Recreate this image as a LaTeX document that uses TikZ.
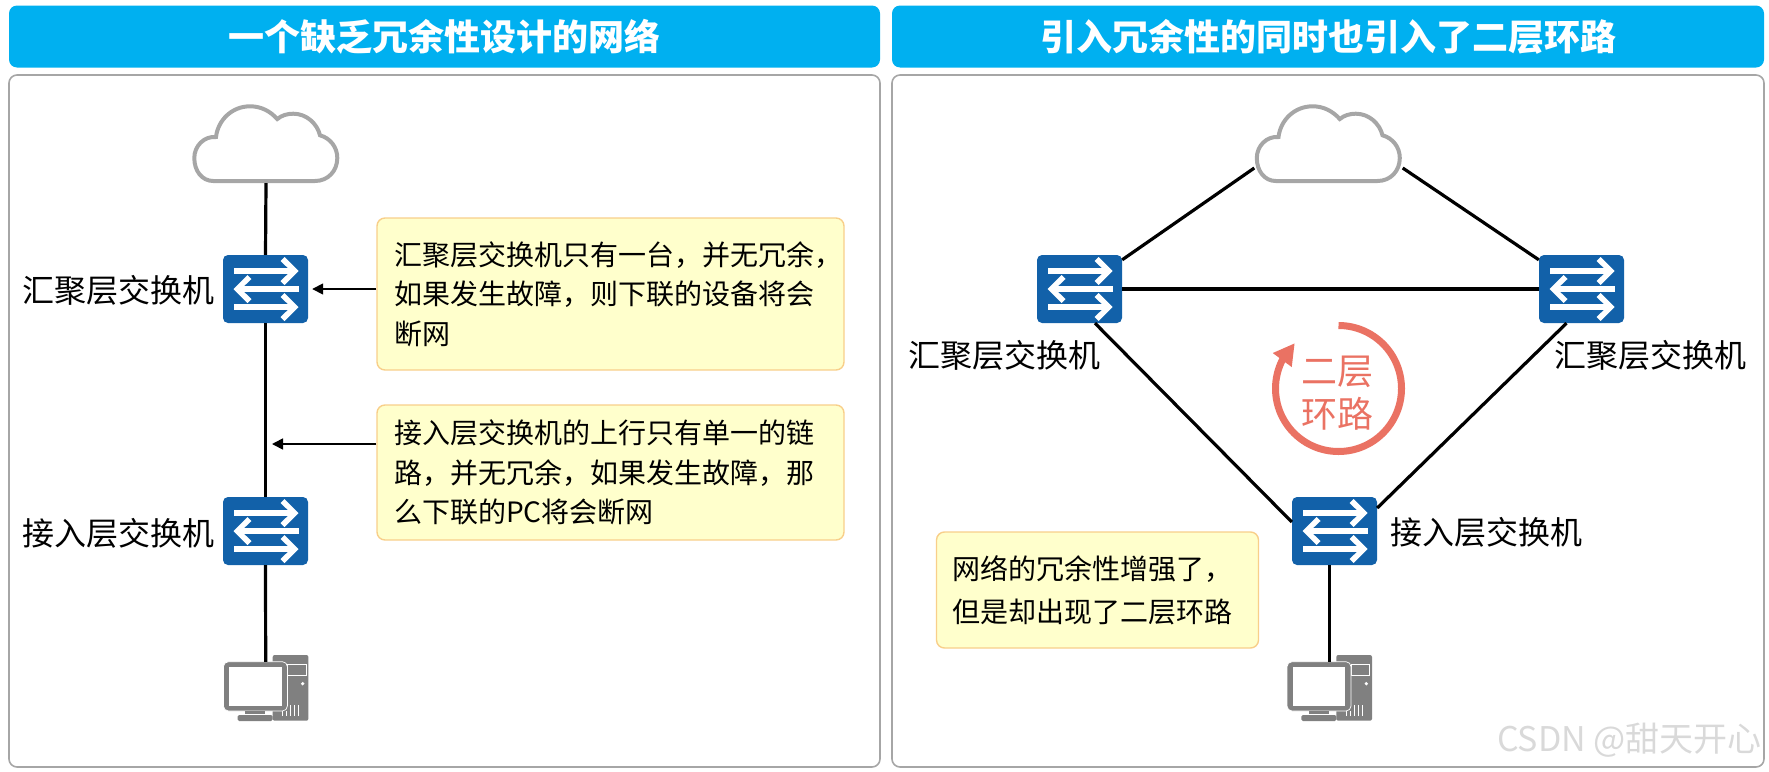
\documentclass[tikz,border=0pt]{standalone}
\usepackage{fontspec}
\setmainfont{Noto Sans CJK SC}
\usetikzlibrary{arrows.meta,bending,calc}
\definecolor{ink}{HTML}{000000}
\definecolor{headFill}{HTML}{00B0F0}
\definecolor{frameGray}{HTML}{A6A6A6}
\definecolor{switchBlue}{HTML}{1261A9}
\definecolor{pcGray}{HTML}{808080}
\definecolor{noteFill}{HTML}{FFFFCC}
\definecolor{noteEdge}{HTML}{F8CF8A}
\definecolor{loopRed}{HTML}{EA7263}
\definecolor{markGray}{HTML}{D9D9D9}
\tikzset{
  base/.style={text=ink, inner sep=0pt},
  header/.style={base, rounded corners=8pt, fill=headFill, text=white, minimum height=62pt, font=\bfseries\fontsize{36}{40}\selectfont},
  panel/.style={rounded corners=8pt, draw=frameGray, line width=1.6pt, minimum height=692pt},
  switch/.style={rounded corners=5pt, fill=switchBlue, minimum width=85pt, minimum height=68pt, inner sep=0pt,
    path picture={
      \begin{scope}[shift={(path picture bounding box.center)}, sharp corners]
        \foreach \ypos in {18,-18} {
          \fill[white] (-32,\ypos+2.7) -- (28,\ypos+2.7) -- (28,\ypos-2.7) -- (-32,\ypos-2.7) -- cycle;
          \fill[white] (15,\ypos+10) -- (19,\ypos+14) -- (33,\ypos) -- (19,\ypos-14) -- (15,\ypos-10) -- (25.5,\ypos) -- cycle;
        }
        \fill[white] (33,2.7) -- (-27,2.7) -- (-27,-2.7) -- (33,-2.7) -- cycle;
        \fill[white] (-14,10) -- (-18,14) -- (-32,0) -- (-18,-14) -- (-14,-10) -- (-24.5,0) -- cycle;
      \end{scope}
    }},
  netlabel/.style={base, font=\fontsize{32}{36}\selectfont},
  callout/.style={base, rounded corners=8pt, draw=noteEdge, line width=1.4pt, fill=noteFill, align=left, inner xsep=17pt, font=\fontsize{28}{39.5}\selectfont},
  link/.style={draw=ink, line width=3.2pt},
  arrow/.style={-{Triangle[length=11pt,width=11pt]}, draw=ink, line width=1.6pt},
  loopline/.style={-{Triangle[length=21pt,width=22pt,flex]}, draw=loopRed, line width=7pt},
  loopword/.style={base, text=loopRed, align=center, font=\fontsize{36}{43}\selectfont},
  watermark/.style={base, text=markGray, font=\fontsize{34}{36}\selectfont},
  cloudicon/.pic={
    \node[minimum width=148pt, minimum height=78pt, inner sep=0pt] (-box) {};
    \draw[draw=frameGray, fill=white, line width=4pt] (-52.7,-37) -- (49,-37)
      .. controls (62,-37) and (71.3,-27) .. (71.3,-14)
      .. controls (71.3,-3) and (64,6) .. (54,8.7)
      .. controls (51,21) and (40,30.3) .. (27.3,30.3)
      .. controls (21,30.3) and (15.5,28.5) .. (11.3,25)
      .. controls (4,33) and (-5,37.7) .. (-16,37.7)
      .. controls (-34,37.7) and (-48,24) .. (-50,7)
      .. controls (-62,8) and (-71.7,-2) .. (-71.7,-14)
      .. controls (-71.7,-27) and (-64,-37) .. (-52.7,-37) -- cycle;
  },
  pcicon/.pic={
    \node[minimum width=85pt, minimum height=66pt, inner sep=0pt] (-box) {};
    \fill[pcGray, rounded corners=2pt] (7,33) rectangle (42.7,-32.7);
    \draw[white, line width=0.7pt] (21.7,23.7) rectangle (40.3,13);
    \fill[white] (37,4.3) circle (1.8);
    \foreach \xpos in {25,29,33} \draw[white, line width=0.8pt] (\xpos,-17) -- (\xpos,-28);
    \foreach \xpos in {17,21} \draw[white, line width=0.8pt] (\xpos,-23) -- (\xpos,-28);
    \draw[pcGray, fill=pcGray, rounded corners=5pt, draw=white, line width=0.7pt] (-42.3,26.3) rectangle (21.7,-23);
    \fill[white] (-36.3,20.7) rectangle (16,-17.7);
    \fill[pcGray] (-20.7,-23) rectangle (-0.7,-26);
    \fill[pcGray, rounded corners=1.5pt] (-28,-27) rectangle (7,-33);
  },
}
\begin{document}
\begin{tikzpicture}[x=1pt,y=1pt]
  \useasboundingbox (0,0) rectangle (1769,-771);

  \node[header,minimum width=871pt] (headL) at (444.5,-36.5) {一个缺乏冗余性设计的网络};
  \node[header,minimum width=872pt] (headR) at (1328,-36.5) {引入冗余性的同时也引入了二层环路};
  \node[panel,minimum width=871pt] (panelL) at (444.5,-421) {};
  \node[panel,minimum width=872pt] (panelR) at (1328,-421) {};

  \pic (cloudL) at (266,-144) {cloudicon};
  \node[switch] (sw1) at (265.5,-289) {};
  \node[switch] (sw2) at (265.5,-531) {};
  \pic (pcL) at (265.7,-688) {pcicon};
  \node[netlabel,anchor=east] (lab1) at (215,-290) {汇聚层交换机};
  \node[netlabel,anchor=east] (lab2) at (215,-533) {接入层交换机};
  \draw[link] (cloudL-box.south) -- (sw1.north);
  \draw[link] (sw1.south) -- (sw2.north);
  \draw[link] (sw2.south) -- ([yshift=-7pt]pcL-box.north);

  \node[callout,text width=433pt,minimum height=152pt] (callA) at (610.5,-294) {汇聚层交换机只有一台，并无冗余，\\如果发生故障，则下联的设备将会\\断网};
  \node[callout,text width=433pt,minimum height=135pt] (callB) at (610.5,-472.5) {接入层交换机的上行只有单一的链\\路，并无冗余，如果发生故障，那\\么下联的PC将会断网};
  \coordinate (gapPoint) at (272,-444);
  \draw[arrow] (sw1.east -| callA.west) -- ([xshift=4pt]sw1.east);
  \draw[arrow] (gapPoint -| callB.west) -- (gapPoint);

  \pic (cloudR) at (1328.5,-144) {cloudicon};
  \node[switch] (swA) at (1079.5,-289) {};
  \node[switch] (swB) at (1581.5,-289) {};
  \node[switch] (swC) at (1334.5,-531) {};
  \pic (pcR) at (1329.3,-688) {pcicon};
  \node[netlabel] (labA) at (1004,-355) {汇聚层交换机};
  \node[netlabel] (labB) at (1650.5,-355) {汇聚层交换机};
  \node[netlabel,anchor=west] (labC) at (1390,-532) {接入层交换机};
  \draw[link] ([yshift=-24pt]cloudR-box.west) -- ([yshift=-5pt]swA.north east);
  \draw[link] ([yshift=-24pt]cloudR-box.east) -- ([yshift=-5pt]swB.north west);
  \draw[link] (swA.east) -- (swB.west);
  \draw[link] ([xshift=15.5pt]swA.south) -- ([yshift=9pt]swC.west);
  \draw[link] ([xshift=-15pt]swB.south) -- ([yshift=23pt]swC.east);
  \draw[link] (swC.south -| pcR-box.north) -- ([yshift=-7pt]pcR-box.north);

  \node[loopword] (loopText) at (1337,-393) {二层\\环路};
  \draw[loopline] (1338.5,-325.5) arc[start angle=90,end angle=-226,radius=63];

  \node[callout,text width=290pt,minimum height=116pt,font=\fontsize{28}{43}\selectfont,inner xsep=16pt] (callC) at (1097.5,-590) {网络的冗余性增强了，\\但是却出现了二层环路};

  \node[watermark,anchor=east] (markText) at (1762,-740) {CSDN @甜天开心};
\end{tikzpicture}
\end{document}
